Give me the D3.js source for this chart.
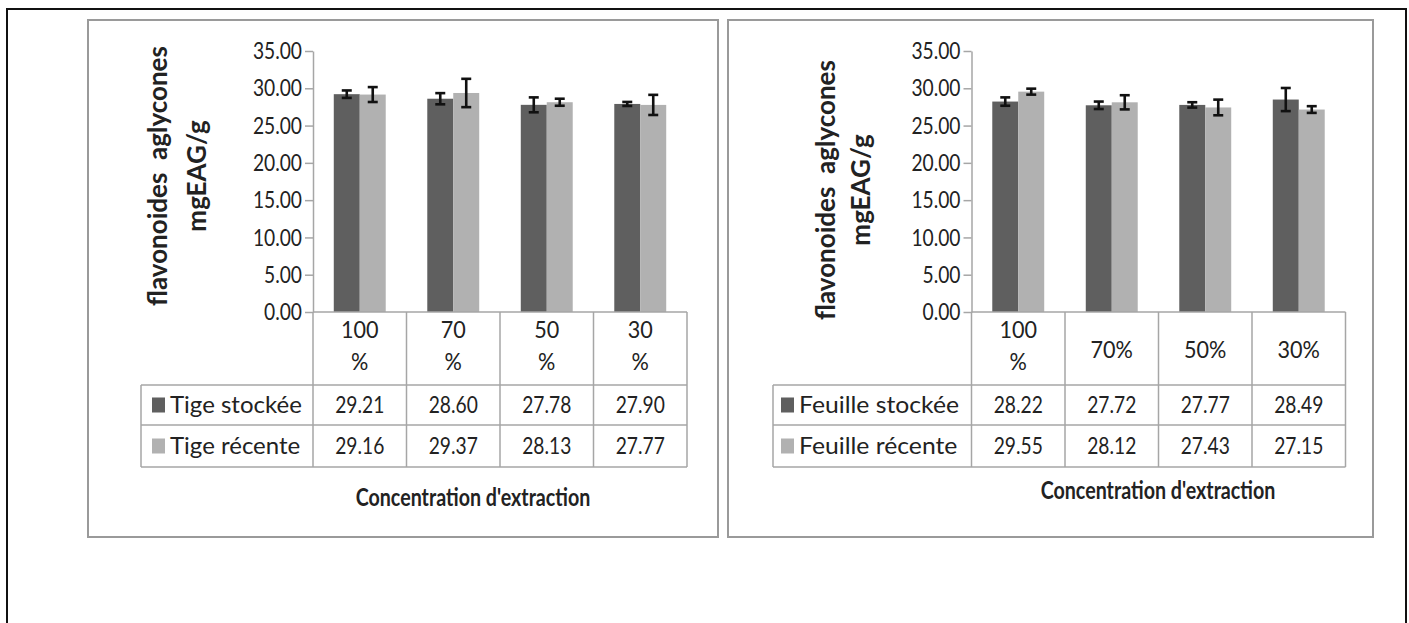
<!DOCTYPE html>
<html>
<head>
<meta charset="utf-8">
<script src="https://cdn.jsdelivr.net/npm/d3@7"></script>
<style>
  html, body { margin: 0; padding: 0; background: #fff; }
  svg { display: block; }
  text { font-family: Lato, "Open Sans", sans-serif; fill: #222; }
</style>
</head>
<body>
<svg id="fig" width="1409" height="623"></svg>
<script>
// Concentration d'extraction (column headers, one array of lines per column)
const tigeCategories = [["100", "%"], ["70", "%"], ["50", "%"], ["30", "%"]];
const feuilleCategories = [["100", "%"], ["70%"], ["50%"], ["30%"]];

// Flavonoïdes aglycones (mgEAG/g) and their standard deviations
const tigeStockee = [29.21, 28.60, 27.78, 27.90];
const tigeStockeeErr = [0.50, 0.75, 1.00, 0.27];
const tigeRecente = [29.16, 29.37, 28.13, 27.77];
const tigeRecenteErr = [1.00, 1.90, 0.47, 1.35];

const feuilleStockee = [28.22, 27.72, 27.77, 28.49];
const feuilleStockeeErr = [0.56, 0.50, 0.36, 1.55];
const feuilleRecente = [29.55, 28.12, 27.43, 27.15];
const feuilleRecenteErr = [0.40, 0.95, 1.05, 0.45];

const yTicks = [0, 5, 10, 15, 20, 25, 30, 35];
const seriesColors = ["#5f5f5f", "#b1b1b1"];

const NUM_SIZE = 24, NUM_SQUEEZE = 0.8;   // narrow figures, as in Calibri

const svg = d3.select("#fig");

// outer frame
svg.append("rect")
  .attr("x", 7).attr("y", 9).attr("width", 1399).attr("height", 640)
  .attr("fill", "none").attr("stroke", "#111").attr("stroke-width", 2);

// text placed at (x, y) and squeezed horizontally by sx
function label(parent, x, y, str, opts = {}) {
  return parent.append("text")
    .attr("transform", `translate(${x},${y}) scale(${opts.sx || 1},1)`)
    .attr("text-anchor", opts.anchor || "start")
    .attr("font-size", opts.size || 22)
    .attr("font-weight", opts.weight || "normal")
    .text(str);
}

function drawPanel(cfg) {
  const g = svg.append("g");

  // panel border
  g.append("rect")
    .attr("x", cfg.box[0]).attr("y", cfg.box[1])
    .attr("width", cfg.box[2] - cfg.box[0]).attr("height", cfg.box[3] - cfg.box[1])
    .attr("fill", "#fff").attr("stroke", "#9a9a9a").attr("stroke-width", 2);

  const y = d3.scaleLinear().domain([0, 35]).range([312, 51]);
  const x0 = d3.scaleBand()
    .domain(d3.range(cfg.categories.length))
    .range([cfg.axisX, cfg.axisX + 374]);
  const x1 = d3.scaleBand()
    .domain([0, 1])
    .range([0, x0.bandwidth()])
    .paddingOuter(0.8);

  // y axis
  const yAxis = g.append("g")
    .attr("transform", `translate(${cfg.axisX},0)`)
    .call(d3.axisLeft(y).tickValues(yTicks).tickFormat(d => d.toFixed(2))
      .tickSize(8).tickSizeOuter(0).tickPadding(3));
  yAxis.select(".domain").attr("stroke", "#a6a6a6").attr("stroke-width", 1.5);
  yAxis.selectAll(".tick line").attr("stroke", "#a6a6a6").attr("stroke-width", 1.5);
  yAxis.selectAll(".tick text")
    .attr("x", 0)
    .attr("transform", `translate(-11,0) scale(${NUM_SQUEEZE},1)`)
    .attr("font-size", NUM_SIZE).attr("fill", "#222")
    .style("font-family", "Lato, sans-serif");

  // bars
  const series = cfg.series;
  series.forEach((s, si) => {
    g.append("g").selectAll("rect")
      .data(s.values)
      .join("rect")
      .attr("x", (d, i) => x0(i) + x1(si))
      .attr("y", d => y(d))
      .attr("width", x1.bandwidth())
      .attr("height", d => y(0) - y(d))
      .attr("fill", seriesColors[si]);
  });

  // error bars
  series.forEach((s, si) => {
    const eg = g.append("g").attr("stroke", "#111").attr("stroke-width", 2.6).attr("fill", "none");
    s.values.forEach((v, i) => {
      const cx = x0(i) + x1(si) + x1.bandwidth() / 2;
      const top = y(v + s.err[i]), bot = y(v - s.err[i]);
      eg.append("line").attr("x1", cx).attr("x2", cx).attr("y1", top).attr("y2", bot);
      eg.append("line").attr("x1", cx - 5).attr("x2", cx + 5).attr("y1", top).attr("y2", top);
      eg.append("line").attr("x1", cx - 5).attr("x2", cx + 5).attr("y1", bot).attr("y2", bot);
    });
  });

  // data table
  const rowTops = [312, 385, 425, 467];
  const right = x0.range()[1];
  const grid = g.append("g").attr("stroke", "#a6a6a6").attr("stroke-width", 1.5);
  grid.append("line").attr("x1", cfg.axisX).attr("x2", right).attr("y1", 312).attr("y2", 312);
  [385, 425, 467].forEach(yy => {
    grid.append("line").attr("x1", cfg.tableLeft).attr("x2", right).attr("y1", yy).attr("y2", yy);
  });
  grid.append("line").attr("x1", cfg.tableLeft).attr("x2", cfg.tableLeft).attr("y1", 385).attr("y2", 467);
  d3.range(cfg.categories.length + 1).forEach(i => {
    const xx = i < cfg.categories.length ? x0(i) : right;
    grid.append("line").attr("x1", xx).attr("x2", xx).attr("y1", 312).attr("y2", 467);
  });

  // column headers
  cfg.categories.forEach((lines, i) => {
    const cx = x0(i) + x0.bandwidth() / 2;
    const start = lines.length === 1 ? 358 : 338;
    lines.forEach((ln, k) => {
      label(g, cx, start + k * 32, ln, { anchor: "middle", size: NUM_SIZE, sx: 0.9 });
    });
  });

  // series rows: legend key, name and values
  series.forEach((s, si) => {
    const top = rowTops[si + 1], bot = rowTops[si + 2];
    const mid = (top + bot) / 2;
    g.append("rect")
      .attr("x", cfg.tableLeft + cfg.keyOffset).attr("y", mid - 7.5)
      .attr("width", 13).attr("height", 15)
      .attr("fill", seriesColors[si]);
    label(g, cfg.tableLeft + cfg.keyOffset + 18, mid + 8, s.name, { size: 24, sx: cfg.nameSqueeze });
    s.values.forEach((v, i) => {
      label(g, x0(i) + x0.bandwidth() / 2, mid + 8, v.toFixed(2),
        { anchor: "middle", size: NUM_SIZE, sx: NUM_SQUEEZE });
    });
  });

  // axis titles
  label(g, cfg.titleX, cfg.titleY, "Concentration d'extraction",
    { anchor: "middle", size: 24, weight: "bold", sx: 0.82 });

  const yl = g.append("text")
    .attr("transform", `translate(${cfg.ylabel[0]},${cfg.ylabel[1]}) rotate(-90)`)
    .attr("text-anchor", "middle").attr("font-size", 26).attr("font-weight", "bold");
  yl.append("tspan").attr("x", 0).attr("y", 0).attr("xml:space", "preserve").text("flavonoides  aglycones");
  yl.append("tspan").attr("x", 0).attr("y", cfg.ylabel[2]).text("mgEAG/g");
}

drawPanel({
  box: [88, 20, 718, 537],
  axisX: 313,
  tableLeft: 141,
  keyOffset: 11,
  nameSqueeze: 1,
  categories: tigeCategories,
  series: [
    { name: "Tige stockée", values: tigeStockee, err: tigeStockeeErr },
    { name: "Tige récente", values: tigeRecente, err: tigeRecenteErr }
  ],
  titleX: 473, titleY: 506,
  ylabel: [167, 176, 39]
});

drawPanel({
  box: [728, 20, 1373, 537],
  axisX: 971.5,
  tableLeft: 773,
  keyOffset: 8,
  nameSqueeze: 1.03,
  categories: feuilleCategories,
  series: [
    { name: "Feuille stockée", values: feuilleStockee, err: feuilleStockeeErr },
    { name: "Feuille récente", values: feuilleRecente, err: feuilleRecenteErr }
  ],
  titleX: 1158, titleY: 499,
  ylabel: [835, 190, 35]
});
</script>
</body>
</html>
